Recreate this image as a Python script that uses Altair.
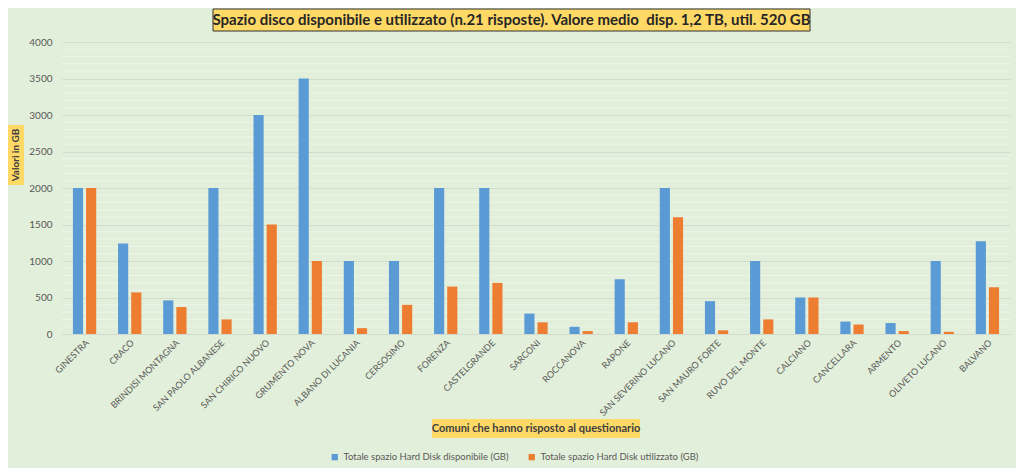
import altair as alt
import pandas as pd

comuni = ["GINESTRA", "CRACO", "BRINDISI MONTAGNA", "SAN PAOLO ALBANESE", "SAN CHIRICO NUOVO",
          "GRUMENTO NOVA", "ALBANO DI LUCANIA", "CERSOSIMO", "FORENZA", "CASTELGRANDE",
          "SARCONI", "ROCCANOVA", "RAPONE", "SAN SEVERINO LUCANO", "SAN MAURO FORTE",
          "RUVO DEL MONTE", "CALCIANO", "CANCELLARA", "ARMENTO", "OLIVETO LUCANO", "BALVANO"]
disponibile = [2000, 1240, 460, 2000, 3000, 3500, 1000, 1000, 2000, 2000,
               280, 100, 750, 2000, 450, 1000, 500, 170, 150, 1000, 1270]
utilizzato = [2000, 570, 370, 200, 1500, 1000, 80, 400, 650, 700,
              160, 40, 160, 1600, 50, 200, 500, 130, 40, 30, 640]
serie = ["Totale spazio Hard Disk disponibile (GB)", "Totale spazio Hard Disk utilizzato (GB)"]
colori = ["#5B9BD5", "#ED7D31"]
y_ticks = [0, 500, 1000, 1500, 2000, 2500, 3000, 3500, 4000]
y_minor = [v for v in range(100, 4000, 100) if v % 500 != 0]

titolo = "Spazio disco disponibile e utilizzato (n.21 risposte). Valore medio \u00a0disp. 1,2 TB, util. 520 GB"
titolo_y = "Valori in GB"
titolo_x = "Comuni che hanno risposto al questionario"

FONT = "Lato"
W, H = 948, 292

rows = []
for c, d, u in zip(comuni, disponibile, utilizzato):
    rows.append({"Comune": c, "Serie": serie[0], "GB": d})
    rows.append({"Comune": c, "Serie": serie[1], "GB": u})
df = pd.DataFrame(rows)

ydom = alt.Scale(domain=[0, 4000])
yaxis = alt.Axis(values=y_ticks, title=None, labelFontSize=10, labelColor="#595959",
                 labelFont=FONT, ticks=False, domain=False, gridColor="#D4DBCF",
                 labelPadding=10, format="d")

minor = alt.Chart(pd.DataFrame({"v": y_minor})).mark_rule(color="#EEF5EA", strokeWidth=1).encode(
    y=alt.Y("v:Q", scale=ydom, axis=yaxis)
)

bars = alt.Chart(df).mark_bar().encode(
    x=alt.X("Comune:N", sort=comuni,
            scale=alt.Scale(paddingInner=0.484, paddingOuter=0.242),
            axis=alt.Axis(title=None, labelAngle=-45, labelFontSize=9, labelColor="#595959",
                          labelFont=FONT, ticks=False, domainColor="#D4D9D0", labelPadding=4,
                          labelLimit=200)),
    xOffset=alt.XOffset("Serie:N", sort=serie, scale=alt.Scale(paddingInner=0.229, paddingOuter=0)),
    y=alt.Y("GB:Q", scale=ydom, axis=yaxis),
    color=alt.Color("Serie:N", sort=serie, scale=alt.Scale(domain=serie, range=colori),
                    legend=alt.Legend(title=None, orient="none", legendX=268, legendY=410,
                                      direction="horizontal", symbolType="square", symbolSize=40,
                                      labelFontSize=9.5, labelColor="#595959", labelFont=FONT,
                                      columnPadding=18, symbolOffset=0, labelLimit=300))
)

one = pd.DataFrame({"t": [titolo], "ty": [titolo_y], "tx": [titolo_x]})

title_box = alt.Chart(one).mark_rect(fill="#FFD966", stroke="#303030", strokeWidth=1).encode(
    x=alt.value(151), x2=alt.value(748), y=alt.value(-33), y2=alt.value(-11))
title_txt = alt.Chart(one).mark_text(font=FONT, fontSize=15, fontWeight="bold", color="#262626",
                                     align="center", baseline="middle").encode(
    x=alt.value(449.5), y=alt.value(-22), text="t:N")

ybox = alt.Chart(one).mark_rect(fill="#FFD966").encode(
    x=alt.value(-55), x2=alt.value(-38), y=alt.value(83), y2=alt.value(143))
ytxt = alt.Chart(one).mark_text(font=FONT, fontSize=10, fontWeight="bold", color="#404040",
                                angle=270, align="center", baseline="middle").encode(
    x=alt.value(-46.5), y=alt.value(113), text="ty:N")

xbox = alt.Chart(one).mark_rect(fill="#FFD966").encode(
    x=alt.value(370), x2=alt.value(578), y=alt.value(377), y2=alt.value(396))
xtxt = alt.Chart(one).mark_text(font=FONT, fontSize=11, fontWeight="bold", color="#404040",
                                align="center", baseline="middle").encode(
    x=alt.value(474), y=alt.value(386.5), text="tx:N")

chart = alt.layer(minor, bars, title_box, title_txt, ybox, ytxt, xbox, xtxt).properties(
    width=W, height=H,
    autosize=alt.AutoSizeParams(type="none"),
    padding={"left": 54, "top": 34, "right": 6, "bottom": 134},
    background="#E2EFDA"
).configure_view(stroke=None)

chart.save("out.html", embed_options={"renderer": "svg", "actions": False})
